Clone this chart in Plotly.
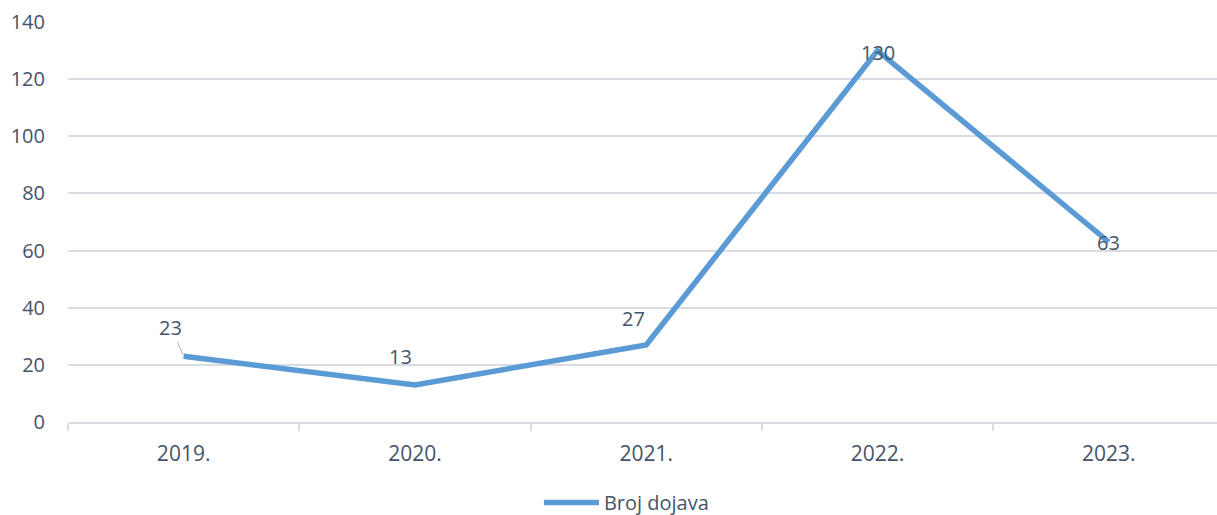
import plotly.graph_objects as go

categories = ["2019.", "2020.", "2021.", "2022.", "2023."]
values = [23, 13, 27, 130, 63]
series_name = "Broj dojava"
y_ticks = [0, 20, 40, 60, 80, 100, 120, 140]

# label offsets (pixels) for each data label
label_dx = [-13, -14, -13, 1, 0]
label_dy = [29, 28, 26, -2, 0]

text_color = "#44546A"
font_family = "Open Sans"

fig = go.Figure()
fig.add_trace(go.Scatter(
    x=categories, y=values, mode="lines", name=series_name,
    line=dict(color="#5B9BD5", width=5.5),
))

annotations = []
for i, v in enumerate(values):
    if i == 0:
        annotations.append(dict(
            x=i, y=v, xref="x", yref="y", text=str(v), showarrow=True, arrowhead=0,
            arrowcolor="#BFBFBF", arrowwidth=1.2, ax=label_dx[i], ay=-label_dy[i],
            standoff=1, font=dict(size=20, color=text_color, family=font_family),
        ))
    else:
        annotations.append(dict(
            x=i, y=v, xref="x", yref="y", text=str(v), showarrow=False,
            xshift=label_dx[i], yshift=label_dy[i],
            font=dict(size=20, color=text_color, family=font_family),
        ))

fig.update_layout(
    width=1217, height=515,
    margin=dict(l=68, r=0, t=22, b=93, autoexpand=False),
    paper_bgcolor="white", plot_bgcolor="white",
    font=dict(family=font_family, size=20, color=text_color),
    showlegend=True,
    annotations=annotations,
    legend=dict(orientation="h", x=0.486, xanchor="center", y=-0.201, yanchor="middle",
                font=dict(size=20, color=text_color), itemwidth=55),
    xaxis=dict(
        type="category", range=[-0.5, 4.468], tickson="boundaries",
        ticks="outside", ticklen=7, tickcolor="#D9DDE3", tickwidth=1.5,
        showline=True, linecolor="#D9DDE3", linewidth=1.5,
        showgrid=False, automargin=False, ticklabelstandoff=12,
        tickfont=dict(size=21, color=text_color),
    ),
    yaxis=dict(
        range=[0, 140], tickvals=y_ticks, showgrid=True,
        gridcolor="#D9DDE3", gridwidth=1.5, zeroline=False,
        showline=False, ticks="", automargin=False, ticklabelstandoff=22,
        tickfont=dict(size=20, color=text_color),
    ),
)

fig.write_html(
    "out.html",
    config={"displayModeBar": False},
    post_script="document.body.style.margin='0';document.documentElement.style.overflow='hidden';",
)
